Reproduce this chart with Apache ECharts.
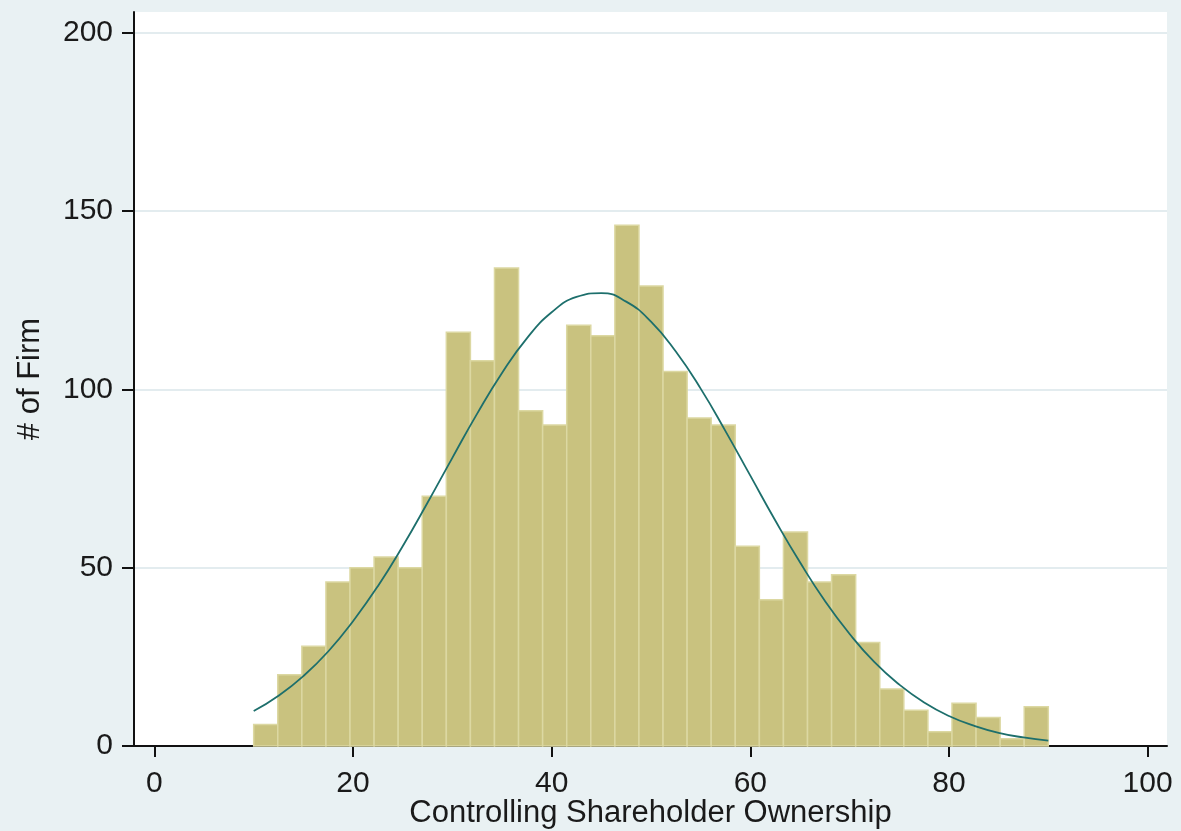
<!DOCTYPE html>
<html>
<head>
<meta charset="utf-8">
<script src="https://cdn.jsdelivr.net/npm/echarts@6/dist/echarts.min.js"></script>
<style>
  html, body { margin: 0; padding: 0; background: #e9f1f3; }
  #chart { width: 1181px; height: 831px; }
</style>
</head>
<body>
<div id="chart"></div>
<script>
// ---- Data ----
const binStart = 10;
const binEnd = 90;
const binCount = 33;
const binCounts = [6, 20, 28, 46, 50, 53, 50, 70, 116, 108, 134, 94, 90, 118, 115, 146,
                   129, 105, 92, 90, 56, 41, 60, 46, 48, 29, 16, 10, 4, 12, 8, 2, 11];
const curveX = [10, 12.5, 15, 17.5, 20, 22.5, 25, 27.5, 30, 32.5, 35, 37.5, 40, 42.5, 45, 47.5,
                50, 52.5, 55, 57.5, 60, 62.5, 65, 67.5, 70, 72.5, 75, 77.5, 80, 82.5, 85, 87.5, 90];
const curveY = [9.8, 14.1, 19.6, 26.5, 35, 44.8, 56, 68.2, 80.8, 93.2, 104.6, 114.3, 121.6, 125.9, 127, 124.6,
                119, 110.6, 100.2, 88.3, 75.8, 63.3, 51.5, 40.7, 31.4, 23.5, 17.2, 12.2, 8.4, 5.7, 3.7, 2.4, 1.5];
const xTicks = [0, 20, 40, 60, 80, 100];
const yTicks = [0, 50, 100, 150, 200];
const xTitle = 'Controlling Shareholder Ownership';
const yTitle = '# of Firm';

// ---- Build series data ----
const binWidth = (binEnd - binStart) / binCount;
const histData = binCounts.map((c, i) => [binStart + i * binWidth, binStart + (i + 1) * binWidth, c]);
const curveData = curveX.map((x, i) => [x, curveY[i]]);

const chart = echarts.init(document.getElementById('chart'), null, { renderer: 'canvas' });
const font = 'Liberation Sans, Arial, sans-serif';

chart.setOption({
  backgroundColor: '#e9f1f3',
  animation: false,
  textStyle: { fontFamily: font },
  grid: {
    left: 134, right: 14, top: 12, bottom: 85,
    containLabel: false,
    outerBoundsMode: 'none',
    show: true, backgroundColor: '#ffffff', borderWidth: 0
  },
  xAxis: {
    type: 'value',
    min: -2.05, max: 101.95,
    name: xTitle,
    nameLocation: 'middle',
    nameGap: 52,
    nameMoveOverlap: false,
    nameTextStyle: { fontSize: 31, color: '#1a1a1a', fontFamily: font },
    axisLine: { show: true, onZero: false, lineStyle: { color: '#111', width: 2 } },
    axisTick: { show: true, length: 11, lineStyle: { color: '#111', width: 2 }, customValues: xTicks },
    axisLabel: { fontSize: 30, color: '#1a1a1a', margin: 23, customValues: xTicks, fontFamily: font },
    splitLine: { show: false }
  },
  yAxis: {
    type: 'value',
    min: 0, max: 205.8, interval: 50,
    name: yTitle,
    nameLocation: 'middle',
    nameGap: 88,
    nameRotate: 90,
    nameMoveOverlap: false,
    nameTextStyle: { fontSize: 31, color: '#1a1a1a', fontFamily: font },
    axisLine: { show: true, onZero: false, lineStyle: { color: '#111', width: 2 } },
    axisTick: { show: true, length: 12, lineStyle: { color: '#111', width: 2 }, customValues: yTicks },
    axisLabel: { fontSize: 30, color: '#1a1a1a', margin: 21, customValues: yTicks, fontFamily: font },
    splitLine: { show: true, lineStyle: { color: '#e3ecef', width: 2 } }
  },
  series: [
    {
      type: 'custom',
      data: histData,
      encode: { x: [0, 1], y: 2 },
      z: 2,
      renderItem: function (params, api) {
        const p0 = api.coord([api.value(0), api.value(2)]);
        const p1 = api.coord([api.value(1), 0]);
        return {
          type: 'rect',
          shape: { x: p0[0], y: p0[1], width: p1[0] - p0[0], height: p1[1] - p0[1] },
          style: { fill: '#c9c27f', stroke: '#dcd8a2', lineWidth: 1.5 }
        };
      }
    },
    {
      type: 'line',
      data: curveData,
      smooth: true,
      showSymbol: false,
      z: 3,
      lineStyle: { color: '#1d6f6c', width: 1.8 },
      itemStyle: { color: '#1d6f6c' }
    }
  ]
});
</script>
</body>
</html>
